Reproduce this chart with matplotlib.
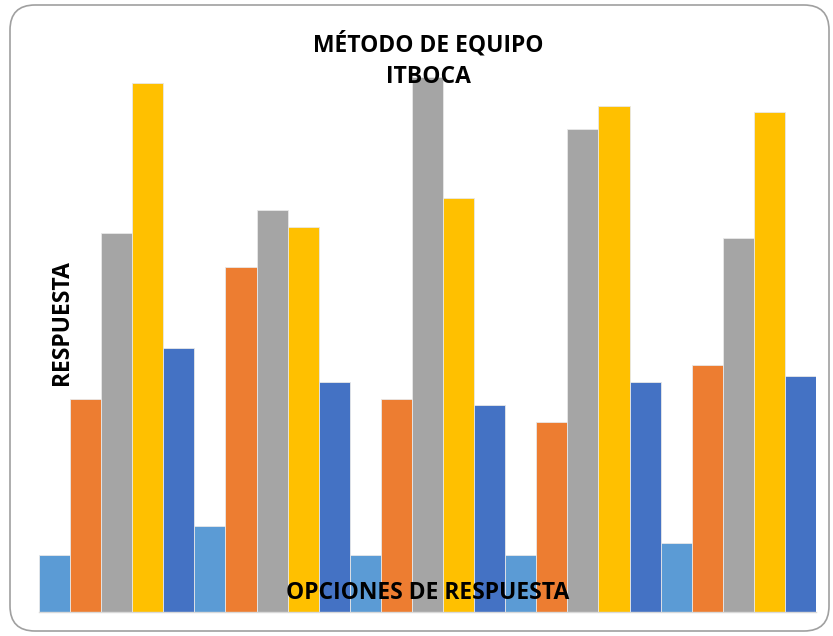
import numpy as np
import matplotlib.pyplot as plt
from matplotlib.patches import FancyBboxPatch

# Response counts per option, one list per series
groups = ["1", "2", "3", "4", "5"]
serie_1 = [10, 15, 10, 10, 12]
serie_2 = [37, 60, 37, 33, 43]
serie_3 = [66, 70, 93, 84, 65]
serie_4 = [92, 67, 72, 88, 87]
serie_5 = [46, 40, 36, 40, 41]

series = [serie_1, serie_2, serie_3, serie_4, serie_5]
colors = ["#5B9BD5", "#ED7D31", "#A5A5A5", "#FFC000", "#4472C4"]

plt.rcParams['font.family'] = ['Open Sans', 'DejaVu Sans']

fig = plt.figure(figsize=(8.33, 6.36), dpi=100)
W, H = 833, 636

# rounded frame around the chart (inch coordinates)
frame = FancyBboxPatch((0.10, 0.05), 8.19, 6.26,
                       boxstyle="round,pad=0,rounding_size=0.25",
                       transform=fig.dpi_scale_trans, facecolor="none",
                       edgecolor="#A0A0A0", linewidth=1.2, zorder=-1)
fig.patches.append(frame)

ax = fig.add_axes([39 / W, (H - 612) / H, (816 - 39) / W, (612 - 60) / H])
ax.set_facecolor("none")

n = len(series)
for i, (vals, col) in enumerate(zip(series, colors)):
    x = np.arange(len(groups)) * n + i
    ax.bar(x, vals, width=1.0, color=col, edgecolor="#E8E8E8",
           linewidth=0.6, zorder=2)

ax.set_xlim(-0.5, len(groups) * n - 0.5)
ax.set_ylim(0, 96)
for s in ["top", "right", "left"]:
    ax.spines[s].set_visible(False)
ax.spines["bottom"].set_color("#D9D9D9")
ax.spines["bottom"].set_linewidth(1.0)
ax.set_xticks([])
ax.set_yticks([])

fs = 16.5
fig.text(428 / W, 1 - 45 / H, "MÉTODO DE EQUIPO", ha="center", va="center",
         fontsize=fs, fontweight="bold", zorder=5)
fig.text(428 / W, 1 - 77 / H, "ITBOCA", ha="center", va="center",
         fontsize=fs, fontweight="bold", zorder=5)
fig.text(428 / W, 1 - 593 / H, "OPCIONES DE RESPUESTA", ha="center",
         va="center", fontsize=fs, fontweight="bold", zorder=5)
fig.text(62 / W, 1 - 323 / H, "RESPUESTA", ha="center", va="center",
         rotation=90, fontsize=fs, fontweight="bold", zorder=5)

fig.savefig("out.png", dpi=100)
